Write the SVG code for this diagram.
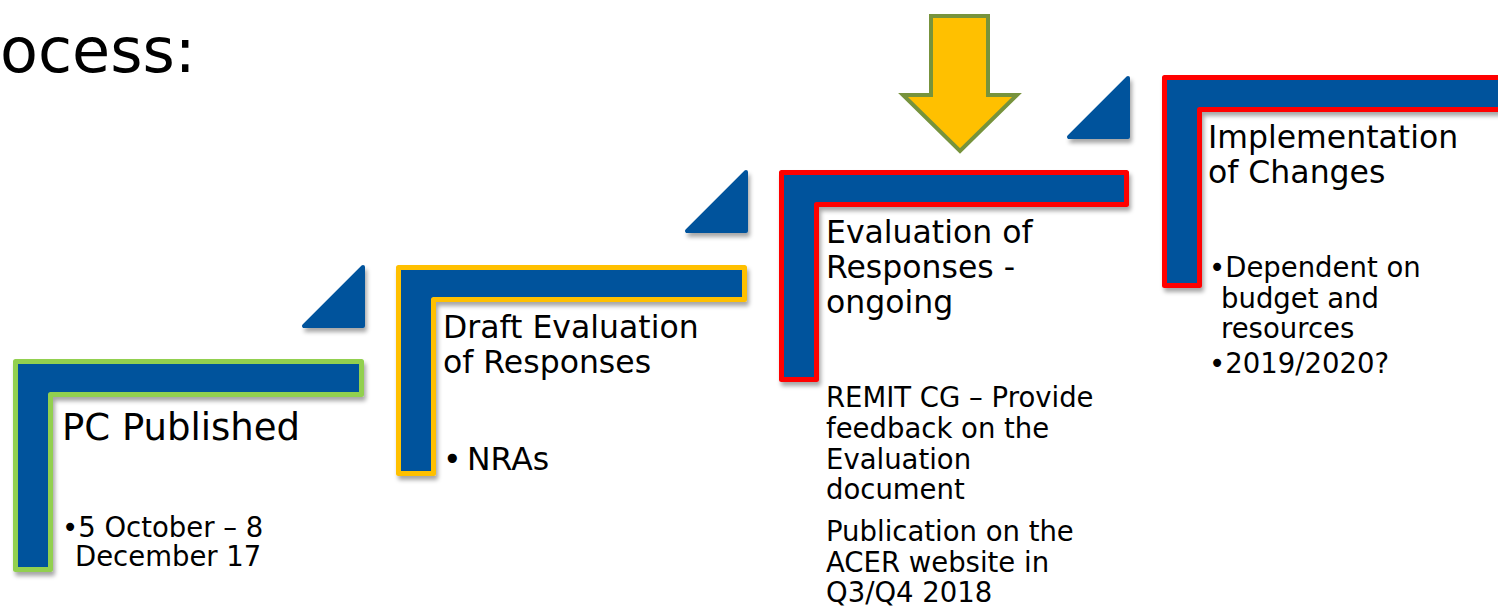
<svg xmlns="http://www.w3.org/2000/svg" width="1498" height="608" viewBox="0 0 1498 608">
<defs>
<filter id="sh" x="-10%" y="-10%" width="130%" height="130%">
<feDropShadow dx="2" dy="4" stdDeviation="2" flood-color="#000" flood-opacity="0.35"/>
</filter>
<style>
.step{fill:#02529c;stroke-width:5;stroke-linejoin:round;filter:url(#sh)}
.tri{fill:#02529c;stroke:#02529c;stroke-width:4;stroke-linejoin:round;filter:url(#sh)}
.green{stroke:#92d050}
.yellow{stroke:#ffc000}
.red{stroke:#ff0000}
text{font-family:"DejaVu Sans","Verdana",sans-serif;fill:#000}
.h{font-size:31.5px}
.b{font-size:27.5px}
.t{font-size:62px}
</style>
</defs>
<rect width="1498" height="608" fill="#ffffff"/>
<text class="t" x="0" y="72">ocess:</text>

<g id="decorations">
<polygon class="tri" points="304,326 363,326 363,267"/>
<polygon class="tri" points="687,231 746,231 746,172"/>
<polygon class="tri" points="1069,137 1128,137 1128,78"/>
<polygon points="931,16 988,16 988,95 1017,95 960,151 903,95 931,95" fill="#ffc000" stroke="#77933c" stroke-width="4" stroke-linejoin="miter"/>
</g>

<g id="step1">
<path class="step green" d="M15.5,361.5 H361.5 V394.5 H50.5 V569.5 H15.5 Z"/>
<text class="h" x="62" y="440" style="font-size:37px">PC Published</text>
<text class="b" x="62" y="537">•5 October – 8</text>
<text class="b" x="75" y="566">December 17</text>
</g>

<g id="step2">
<path class="step yellow" d="M398.5,267.5 H744.5 V299.5 H433.5 V473.5 H398.5 Z"/>
<text class="h" x="443" y="338">Draft Evaluation</text>
<text class="h" x="443" y="373">of Responses</text>
<text class="h" x="443" y="470">•<tspan x="467">NRAs</tspan></text>
</g>

<g id="step3">
<path class="step red" d="M781.5,172.5 H1126.5 V204.5 H816.5 V379.5 H781.5 Z"/>
<text class="h" x="826" y="243">Evaluation of</text>
<text class="h" x="826" y="278">Responses -</text>
<text class="h" x="826" y="313">ongoing</text>
<text class="b" x="826" y="407">REMIT CG – Provide</text>
<text class="b" x="826" y="438">feedback on the</text>
<text class="b" x="826" y="469">Evaluation</text>
<text class="b" x="826" y="499">document</text>
<text class="b" x="826" y="541">Publication on the</text>
<text class="b" x="826" y="572">ACER website in</text>
<text class="b" x="826" y="602">Q3/Q4 2018</text>
</g>

<g id="step4">
<path class="step red" d="M1164.5,77.5 H1510 V109.5 H1199.5 V285.5 H1164.5 Z"/>
<text class="h" x="1208" y="148">Implementation</text>
<text class="h" x="1208" y="183">of Changes</text>
<text class="b" x="1209" y="277">•Dependent on</text>
<text class="b" x="1221" y="308">budget and</text>
<text class="b" x="1221" y="338">resources</text>
<text class="b" x="1209" y="373">•2019/2020?</text>
</g>
</svg>
